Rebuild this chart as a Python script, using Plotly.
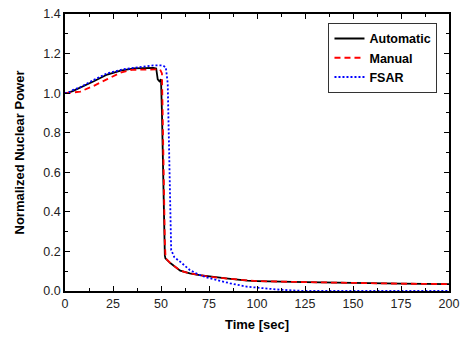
import plotly.graph_objects as go

# Automatic
t_auto = [0, 1, 4, 8, 15, 22, 29, 36, 42, 46, 47.5, 48.3, 49.2, 50, 50.5, 51, 51.5, 52, 52.3,
          55, 60, 65, 70, 75.5, 85, 95, 100, 125, 150, 175, 200]
p_auto = [1.0, 1.0, 1.01, 1.027, 1.06, 1.094, 1.114, 1.125, 1.127, 1.128, 1.125, 1.07, 1.06, 1.07,
          0.9, 0.6, 0.3, 0.18, 0.165, 0.14, 0.103, 0.089, 0.08, 0.072, 0.062, 0.052, 0.05, 0.045,
          0.04, 0.037, 0.035]

# Manual
t_man = [0, 2, 4, 8, 15, 22, 29, 35, 42, 47, 49.5, 50.5, 51, 51.5, 52, 52.4,
         55, 60, 65, 70, 75.5, 85, 95, 100, 125, 150, 175, 200]
p_man = [1.0, 1.0, 1.003, 1.008, 1.037, 1.071, 1.104, 1.118, 1.12, 1.121, 1.12, 1.1, 0.9, 0.55, 0.25, 0.165,
         0.14, 0.103, 0.089, 0.08, 0.072, 0.062, 0.052, 0.05, 0.045, 0.04, 0.037, 0.035]

# FSAR
t_fsar = [0, 1.5, 4, 8, 15, 22, 30, 36, 40, 46, 51, 52.5, 53.5, 54, 54.5, 55, 55.3, 57, 60, 65, 70,
          75.5, 80, 86, 94.6, 100, 110, 120, 125, 200]
p_fsar = [1.0, 1.0, 1.015, 1.03, 1.067, 1.10, 1.12, 1.128, 1.135, 1.14, 1.14, 1.13, 1.05, 0.8, 0.5, 0.25,
          0.207, 0.17, 0.148, 0.106, 0.081, 0.064, 0.052, 0.039, 0.022, 0.016, 0.008, 0.002, 0.0, 0.0]

fig = go.Figure()
fig.add_trace(go.Scatter(x=t_auto, y=p_auto, mode="lines", name="Automatic",
                         line=dict(color="black", width=1.8)))
fig.add_trace(go.Scatter(x=t_man, y=p_man, mode="lines", name="Manual",
                         line=dict(color="red", width=1.8, dash="6px,4px")))
fig.add_trace(go.Scatter(x=t_fsar, y=p_fsar, mode="lines", name="FSAR",
                         line=dict(color="blue", width=1.8, dash="2px,2px")))

fam = "Liberation Sans, Arial, sans-serif"
fig.update_layout(
    width=460, height=340,
    margin=dict(l=65, r=11, t=14, b=49),
    plot_bgcolor="white", paper_bgcolor="white",
    font=dict(size=12.5, family=fam, color="#222"),
    showlegend=True,
    legend=dict(x=0.97, y=0.968, xanchor="right", yanchor="top",
                bordercolor="#333", borderwidth=1, bgcolor="white",
                font=dict(size=12.5, family=fam, color="black", weight="bold"),
                tracegroupgap=0, itemwidth=30),
)
fig.update_xaxes(
    range=[0, 200], tickvals=[0, 25, 50, 75, 100, 125, 150, 175, 200],
    ticks="inside", ticklen=5, tickcolor="black", showline=True, linecolor="black", linewidth=1.5,
    mirror="allticks", showgrid=False, zeroline=False, automargin=False,
    minor=dict(ticks="inside", ticklen=3, dtick=12.5, tick0=0, tickcolor="black"),
    title=dict(text="Time [sec]", font=dict(size=13, family=fam, color="black", weight="bold"), standoff=10),
    tickfont=dict(size=12.5, family=fam, color="#222"),
)
fig.update_yaxes(
    range=[0, 1.4], tickvals=[0, 0.2, 0.4, 0.6, 0.8, 1.0, 1.2, 1.4], tickformat=".1f",
    ticks="inside", ticklen=5, tickcolor="black", showline=True, linecolor="black", linewidth=1.5,
    mirror="allticks", showgrid=False, zeroline=False, automargin=False,
    minor=dict(ticks="inside", ticklen=3, dtick=0.1, tick0=0, tickcolor="black"),
    title=dict(text="Normalized Nuclear Power", font=dict(size=13, family=fam, color="black", weight="bold"), standoff=16),
    tickfont=dict(size=12.5, family=fam, color="#222"),
)
fig.write_html("out.html")
